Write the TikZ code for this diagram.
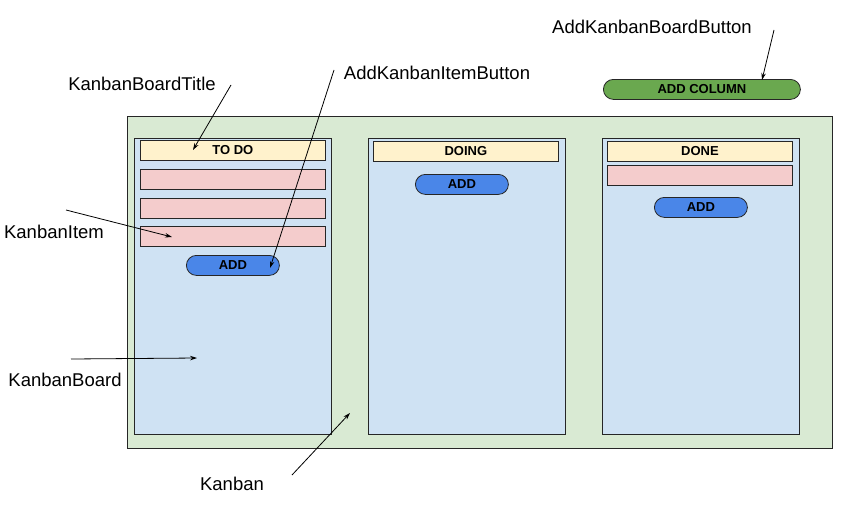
\documentclass[tikz,border=0pt]{standalone}
\usepackage{fontspec}
\setmainfont{Liberation Sans}
\usetikzlibrary{arrows.meta}
\definecolor{kgreen}{HTML}{D9EAD3}
\definecolor{kblue}{HTML}{CFE2F3}
\definecolor{ktitle}{HTML}{FFF2CC}
\definecolor{kitem}{HTML}{F4CCCC}
\definecolor{kbtn}{HTML}{4A86E8}
\definecolor{kbtngreen}{HTML}{6AA84F}
\tikzset{
  box/.style={draw=black!85, line width=0.8pt, inner sep=0pt, anchor=north west},
  boardbox/.style={box, fill=kblue, minimum width=197pt, minimum height=296pt},
  titlebox/.style={box, fill=ktitle, minimum width=185pt, minimum height=20pt, font=\fontsize{13}{15}\selectfont\bfseries},
  itembox/.style={box, fill=kitem, minimum width=185pt, minimum height=20pt},
  addbtn/.style={box, fill=kbtn, rounded corners=10pt, minimum width=93pt, minimum height=20pt, font=\fontsize{13}{15}\selectfont\bfseries},
  lbl/.style={font=\fontsize{18.5}{22}\selectfont, inner sep=0pt},
  arr/.style={line width=0.8pt, -{Stealth[length=7pt,width=4.5pt]}}
}
\begin{document}
\begin{tikzpicture}[x=1pt,y=-1pt]
\useasboundingbox (0,0) rectangle (866,511);
\fill[white] (0,0) rectangle (866,511);
% main Kanban
\node[box, fill=kgreen, minimum width=705pt, minimum height=332pt] (kanban) at (127,116) {};
% boards
\node[boardbox] (b1) at (134,138) {};
\node[boardbox] (b2) at (368,138) {};
\node[boardbox] (b3) at (602,138) {};
% titles
\node[titlebox] (t1) at (140,140) {TO DO};
\node[titlebox] (t2) at (373,141) {DOING};
\node[titlebox] (t3) at (607,141) {DONE};
% items
\node[itembox] (i1) at (140,169) {};
\node[itembox] (i2) at (140,198) {};
\node[itembox] (i3) at (140,226) {};
\node[itembox] (i4) at (607,165) {};
% add buttons
\node[addbtn] (a1) at (186,255) {ADD};
\node[addbtn] (a2) at (415,174) {ADD};
\node[addbtn] (a3) at (654,197) {ADD};
\node[box, fill=kbtngreen, rounded corners=10pt, minimum width=197pt, minimum height=20pt, font=\fontsize{13}{15}\selectfont\bfseries] (addcol) at (603,79) {ADD COLUMN};
% labels
\node[lbl] (lAKBB) at (652,27) {AddKanbanBoardButton};
\node[lbl] (lKBT) at (142,84) {KanbanBoardTitle};
\node[lbl] (lAKIB) at (437,73) {AddKanbanItemButton};
\node[lbl] (lKI) at (54,232) {KanbanItem};
\node[lbl] (lKB) at (65,380) {KanbanBoard};
\node[lbl] (lK) at (232,484) {Kanban};
% arrow endpoints
\coordinate (s1) at (774,30);  \coordinate (e1) at (762,80);
\coordinate (s2) at (231,85);  \coordinate (e2) at (193,150);
\coordinate (s3) at (334,70);  \coordinate (e3) at (270,268);
\coordinate (s4) at (66,210);  \coordinate (e4) at (172,237);
\coordinate (s5) at (71,359);  \coordinate (e5) at (197,358);
\coordinate (s6) at (292,475); \coordinate (e6) at (350,413);
\draw[arr] (s1) -- (e1);
\draw[arr] (s2) -- (e2);
\draw[arr] (s3) -- (e3);
\draw[arr] (s4) -- (e4);
\draw[arr] (s5) -- (e5);
\draw[arr] (s6) -- (e6);
\end{tikzpicture}
\end{document}
